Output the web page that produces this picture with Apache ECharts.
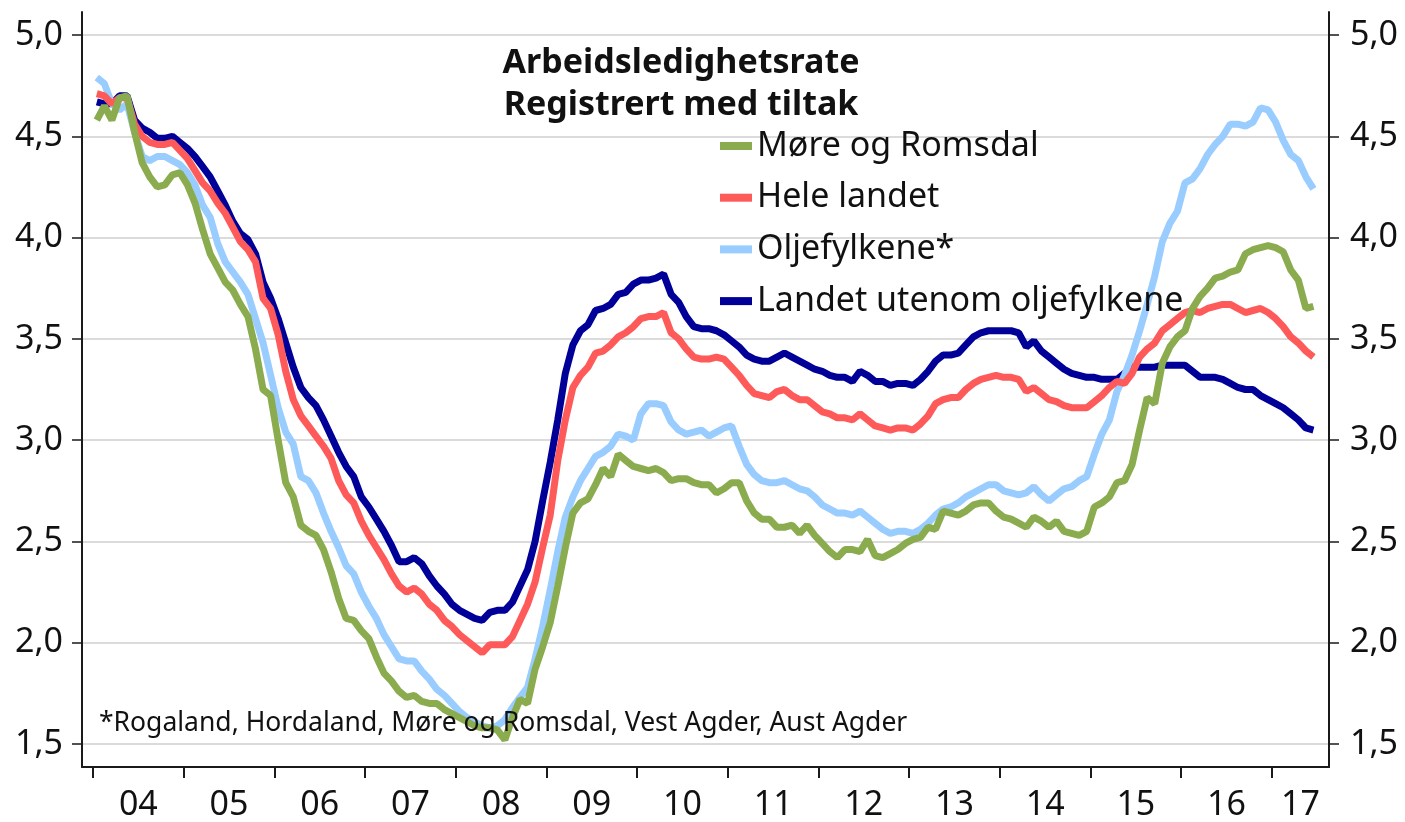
<!DOCTYPE html>
<html lang="nb">
<head>
<meta charset="utf-8">
<title>Arbeidsledighetsrate</title>
<style>
    html, body, #chart {
        width: 100%;
        height: 100%;
        margin: 0;
        padding: 0;
        overflow: hidden;
        background: #fff;
    }
</style>
</head>
<body>
<div id="chart"></div>
<script src="https://cdn.jsdelivr.net/npm/echarts@6/dist/echarts.min.js"></script>
<script>
    // monthly values, Jan 2004 - Jun 2017 (percent)
    var moreRomsdal = [
        4.58, 4.65, 4.58, 4.69, 4.70, 4.52, 4.37, 4.30, 4.25, 4.26, 4.31, 4.32,
        4.26, 4.17, 4.04, 3.92, 3.85, 3.78, 3.74, 3.67, 3.61, 3.45, 3.25, 3.22,
        3.00, 2.79, 2.72, 2.58, 2.55, 2.53, 2.46, 2.35, 2.22, 2.12, 2.11, 2.06,
        2.02, 1.93, 1.85, 1.81, 1.76, 1.73, 1.74, 1.71, 1.70, 1.70, 1.67, 1.65,
        1.63, 1.61, 1.59, 1.58, 1.58, 1.57, 1.52, 1.63, 1.72, 1.70, 1.87, 1.98,
        2.10, 2.28, 2.47, 2.64, 2.69, 2.71, 2.78, 2.86, 2.82, 2.93, 2.90, 2.87,
        2.86, 2.85, 2.86, 2.84, 2.80, 2.81, 2.81, 2.79, 2.78, 2.78, 2.74, 2.76,
        2.79, 2.79, 2.70, 2.64, 2.61, 2.61, 2.57, 2.57, 2.58, 2.54, 2.58, 2.53,
        2.49, 2.45, 2.42, 2.46, 2.46, 2.45, 2.51, 2.43, 2.42, 2.44, 2.46, 2.49,
        2.51, 2.52, 2.57, 2.56, 2.65, 2.64, 2.63, 2.65, 2.68, 2.69, 2.69, 2.65,
        2.62, 2.61, 2.59, 2.57, 2.62, 2.60, 2.57, 2.60, 2.55, 2.54, 2.53, 2.55,
        2.67, 2.69, 2.72, 2.79, 2.80, 2.88, 3.05, 3.21, 3.18, 3.38, 3.46, 3.51,
        3.54, 3.65, 3.71, 3.75, 3.80, 3.81, 3.83, 3.84, 3.92, 3.94, 3.95, 3.96,
        3.95, 3.93, 3.84, 3.79, 3.65, 3.66
    ];
    var heleLandet = [
        4.71, 4.70, 4.66, 4.69, 4.69, 4.56, 4.50, 4.47, 4.46, 4.46, 4.47, 4.43,
        4.39, 4.33, 4.27, 4.23, 4.17, 4.12, 4.05, 3.98, 3.94, 3.88, 3.70, 3.65,
        3.52, 3.34, 3.20, 3.12, 3.07, 3.02, 2.97, 2.91, 2.80, 2.73, 2.69, 2.60,
        2.53, 2.47, 2.41, 2.34, 2.28, 2.25, 2.27, 2.24, 2.19, 2.16, 2.11, 2.08,
        2.04, 2.01, 1.98, 1.95, 1.99, 1.99, 1.99, 2.03, 2.11, 2.19, 2.30, 2.47,
        2.63, 2.90, 3.10, 3.26, 3.32, 3.36, 3.43, 3.44, 3.47, 3.51, 3.53, 3.56,
        3.60, 3.61, 3.61, 3.63, 3.53, 3.50, 3.45, 3.41, 3.40, 3.40, 3.41, 3.40,
        3.36, 3.32, 3.27, 3.23, 3.22, 3.21, 3.24, 3.25, 3.22, 3.20, 3.20, 3.17,
        3.14, 3.13, 3.11, 3.11, 3.10, 3.13, 3.10, 3.07, 3.06, 3.05, 3.06, 3.06,
        3.05, 3.08, 3.12, 3.18, 3.20, 3.21, 3.21, 3.25, 3.28, 3.30, 3.31, 3.32,
        3.31, 3.31, 3.30, 3.24, 3.26, 3.23, 3.20, 3.19, 3.17, 3.16, 3.16, 3.16,
        3.19, 3.22, 3.26, 3.29, 3.28, 3.33, 3.41, 3.45, 3.48, 3.54, 3.57, 3.60,
        3.63, 3.64, 3.63, 3.65, 3.66, 3.67, 3.67, 3.65, 3.63, 3.64, 3.65, 3.63,
        3.60, 3.56, 3.51, 3.48, 3.44, 3.41
    ];
    var oljefylkene = [
        4.79, 4.76, 4.66, 4.63, 4.66, 4.52, 4.40, 4.38, 4.40, 4.40, 4.38, 4.36,
        4.32, 4.26, 4.16, 4.10, 3.97, 3.88, 3.83, 3.78, 3.72, 3.60, 3.48, 3.32,
        3.16, 3.04, 2.98, 2.82, 2.80, 2.74, 2.64, 2.55, 2.47, 2.38, 2.34, 2.25,
        2.18, 2.12, 2.04, 1.98, 1.92, 1.91, 1.91, 1.86, 1.82, 1.77, 1.74, 1.70,
        1.66, 1.63, 1.61, 1.59, 1.58, 1.59, 1.62, 1.68, 1.73, 1.78, 1.92, 2.08,
        2.26, 2.45, 2.62, 2.72, 2.80, 2.86, 2.92, 2.94, 2.97, 3.03, 3.02, 3.00,
        3.13, 3.18, 3.18, 3.17, 3.09, 3.05, 3.03, 3.04, 3.05, 3.02, 3.04, 3.06,
        3.07, 2.97, 2.88, 2.83, 2.80, 2.79, 2.79, 2.80, 2.78, 2.76, 2.75, 2.72,
        2.68, 2.66, 2.64, 2.64, 2.63, 2.65, 2.62, 2.59, 2.56, 2.54, 2.55, 2.55,
        2.54, 2.56, 2.59, 2.63, 2.66, 2.67, 2.69, 2.72, 2.74, 2.76, 2.78, 2.78,
        2.75, 2.74, 2.73, 2.74, 2.77, 2.73, 2.70, 2.73, 2.76, 2.77, 2.80, 2.82,
        2.93, 3.03, 3.10, 3.24, 3.32, 3.42, 3.54, 3.67, 3.81, 3.98, 4.07, 4.13,
        4.27, 4.29, 4.34, 4.41, 4.46, 4.50, 4.56, 4.56, 4.55, 4.57, 4.64, 4.63,
        4.57, 4.48, 4.41, 4.38, 4.30, 4.24
    ];
    var utenomOlje = [
        4.67, 4.66, 4.66, 4.70, 4.70, 4.58, 4.54, 4.52, 4.49, 4.49, 4.50, 4.47,
        4.44, 4.40, 4.35, 4.30, 4.23, 4.16, 4.08, 4.02, 3.99, 3.92, 3.78, 3.70,
        3.60, 3.48, 3.36, 3.26, 3.21, 3.17, 3.10, 3.02, 2.94, 2.87, 2.82, 2.72,
        2.67, 2.61, 2.55, 2.48, 2.40, 2.40, 2.42, 2.39, 2.33, 2.28, 2.24, 2.19,
        2.16, 2.14, 2.12, 2.11, 2.15, 2.16, 2.16, 2.20, 2.28, 2.36, 2.50, 2.70,
        2.89, 3.10, 3.33, 3.47, 3.54, 3.57, 3.64, 3.65, 3.67, 3.72, 3.73, 3.77,
        3.79, 3.79, 3.80, 3.82, 3.72, 3.68, 3.61, 3.56, 3.55, 3.55, 3.54, 3.52,
        3.49, 3.46, 3.42, 3.40, 3.39, 3.39, 3.41, 3.43, 3.41, 3.39, 3.37, 3.35,
        3.34, 3.32, 3.31, 3.31, 3.29, 3.34, 3.32, 3.29, 3.29, 3.27, 3.28, 3.28,
        3.27, 3.30, 3.34, 3.39, 3.42, 3.42, 3.43, 3.47, 3.51, 3.53, 3.54, 3.54,
        3.54, 3.54, 3.53, 3.46, 3.49, 3.44, 3.41, 3.38, 3.35, 3.33, 3.32, 3.31,
        3.31, 3.30, 3.30, 3.30, 3.33, 3.36, 3.36, 3.36, 3.36, 3.37, 3.37, 3.37,
        3.37, 3.34, 3.31, 3.31, 3.31, 3.30, 3.28, 3.26, 3.25, 3.25, 3.22, 3.20,
        3.18, 3.16, 3.13, 3.10, 3.06, 3.05
    ];
    var yearLabels = ['04', '05', '06', '07', '08', '09', '10', '11', '12', '13', '14', '15', '16', '17'];
    var yTicks = [1.5, 2.0, 2.5, 3.0, 3.5, 4.0, 4.5, 5.0];

    var xMin = -1.96, xMax = 163.06;   // month index, 0 = Jan 2004
    var yMin = 1.3865, yMax = 5.1135;

    // year boundaries and centred year labels
    var yearTicks = yearLabels.map(function (y, k) { return k * 12 - 0.5; });
    var yearLabelPos = yearTicks.map(function (t, k) {
        var next = k < yearTicks.length - 1 ? yearTicks[k + 1] : xMax;
        return (t + next) / 2;
    });

    function toPairs(arr) {
        return arr.map(function (v, i) { return [i, v]; });
    }
    function fmtY(v) {
        return v.toFixed(1).replace('.', ',');
    }

    var font = 'Noto Sans';
    var axisColor = '#1a1a1a';

    var myChart = echarts.init(document.getElementById('chart'));
    var option = {
        animation: false,
        backgroundColor: '#fff',
        textStyle: { fontFamily: font },
        title: [{
            text: 'Arbeidsledighetsrate\nRegistrert med tiltak',
            left: 676,
            top: 37,
            textAlign: 'center',
            textStyle: {
                fontFamily: font,
                fontSize: 34,
                fontWeight: 'bold',
                lineHeight: 42,
                color: '#111'
            }
        }, {
            text: '*Rogaland, Hordaland, Møre og Romsdal, Vest Agder, Aust Agder',
            left: 94,
            top: 705,
            textStyle: {
                fontFamily: font,
                fontSize: 26.5,
                fontWeight: 'normal',
                color: '#111'
            }
        }],
        legend: {
            orient: 'vertical',
            left: 720,
            top: 129,
            padding: 0,
            icon: 'rect',
            itemWidth: 32,
            itemHeight: 8,
            itemGap: 17.7,
            data: ['Møre og Romsdal', 'Hele landet', 'Oljefylkene*', 'Landet utenom oljefylkene'],
            textStyle: {
                fontFamily: font,
                fontSize: 34,
                lineHeight: 34,
                color: '#111'
            }
        },
        grid: {
            left: 82,
            right: 76,
            top: 12,
            bottom: 55,
            containLabel: false,
            outerBoundsMode: 'none'
        },
        xAxis: {
            type: 'value',
            min: xMin,
            max: xMax,
            axisLine: { show: true, lineStyle: { color: axisColor, width: 2 } },
            axisTick: {
                show: true,
                length: 11,
                customValues: yearTicks,
                lineStyle: { color: axisColor, width: 2 }
            },
            axisLabel: {
                customValues: yearLabelPos,
                margin: 21,
                fontFamily: font,
                fontSize: 34,
                color: '#111',
                formatter: function (v) {
                    for (var k = 0; k < yearLabelPos.length; k++) {
                        if (Math.abs(yearLabelPos[k] - v) < 0.01) return yearLabels[k];
                    }
                    return '';
                }
            },
            splitLine: { show: false }
        },
        yAxis: [{
            type: 'value',
            position: 'left',
            min: yMin,
            max: yMax,
            axisLine: { show: true, onZero: false, lineStyle: { color: axisColor, width: 2 } },
            axisTick: {
                show: true,
                length: 10,
                customValues: yTicks,
                lineStyle: { color: axisColor, width: 1.5 }
            },
            axisLabel: {
                customValues: yTicks,
                margin: 19,
                fontFamily: font,
                fontSize: 34,
                color: '#111',
                formatter: fmtY
            },
            splitLine: { show: true, lineStyle: { color: '#cfcfcf', width: 1.5 } }
        }, {
            type: 'value',
            position: 'right',
            min: yMin,
            max: yMax,
            axisLine: { show: true, onZero: false, lineStyle: { color: axisColor, width: 2 } },
            axisTick: {
                show: true,
                length: 10,
                customValues: yTicks,
                lineStyle: { color: axisColor, width: 1.5 }
            },
            axisLabel: {
                customValues: yTicks,
                margin: 21,
                fontFamily: font,
                fontSize: 34,
                color: '#111',
                formatter: fmtY
            },
            splitLine: { show: false }
        }],
        series: [{
            name: 'Landet utenom oljefylkene',
            type: 'line',
            data: toPairs(utenomOlje),
            showSymbol: false,
            color: '#000099',
            lineStyle: { width: 7, color: '#000099' }
        }, {
            name: 'Oljefylkene*',
            type: 'line',
            data: toPairs(oljefylkene),
            showSymbol: false,
            color: '#99CCFF',
            lineStyle: { width: 7, color: '#99CCFF' }
        }, {
            name: 'Hele landet',
            type: 'line',
            data: toPairs(heleLandet),
            showSymbol: false,
            color: '#FF5A5A',
            lineStyle: { width: 7, color: '#FF5A5A' }
        }, {
            name: 'Møre og Romsdal',
            type: 'line',
            data: toPairs(moreRomsdal),
            showSymbol: false,
            color: '#8BAC4E',
            lineStyle: { width: 7, color: '#8BAC4E' }
        }]
    };
    myChart.setOption(option);
</script>
</body>
</html>
